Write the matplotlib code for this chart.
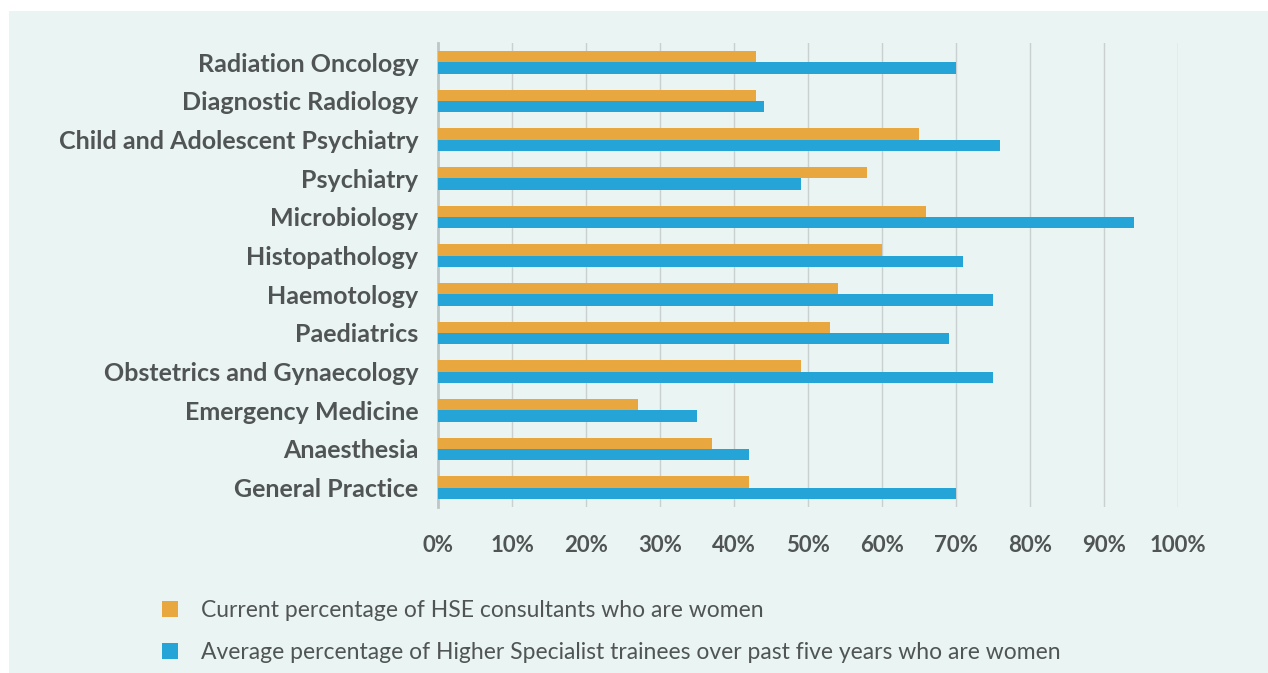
import matplotlib.pyplot as plt
import numpy as np
from matplotlib.patches import Patch

specialties = ["Radiation Oncology", "Diagnostic Radiology", "Child and Adolescent Psychiatry",
               "Psychiatry", "Microbiology", "Histopathology", "Haemotology", "Paediatrics",
               "Obstetrics and Gynaecology", "Emergency Medicine", "Anaesthesia", "General Practice"]
consultants = [43, 43, 65, 58, 66, 60, 54, 53, 49, 27, 37, 42]
trainees = [70, 44, 76, 49, 94, 71, 75, 69, 75, 35, 42, 70]
xticks = [0, 10, 20, 30, 40, 50, 60, 70, 80, 90, 100]

orange = "#E8A73F"
blue = "#25A5D7"
panel = "#EAF4F2"
grey = "#505454"

fig = plt.figure(figsize=(12.68, 6.73), dpi=100)
fig.patch.set_facecolor("white")

# light panel behind the chart
bg = fig.add_axes([9 / 1268, 0, 1 - 9 / 1268, 1 - 11 / 673], zorder=0)
bg.set_facecolor(panel)
bg.set_xticks([])
bg.set_yticks([])
for s in bg.spines.values():
    s.set_visible(False)

ax = fig.add_axes([438 / 1268, 1 - 507 / 673, 740 / 1268, 464 / 673], zorder=2)
ax.patch.set_alpha(0)

y = np.arange(len(specialties))
h = 0.29
ax.barh(y - h / 2, consultants, height=h, color=orange, zorder=3)
ax.barh(y + h / 2, trainees, height=h, color=blue, zorder=3)

ax.set_ylim(len(specialties) - 0.5, -0.5)
ax.set_xlim(0, 100)
ax.set_yticks(y)
ax.set_yticklabels(specialties, fontfamily="Lato", fontweight="bold", fontsize=18, color=grey)
ax.set_xticks(xticks)
ax.set_xticklabels([f"{t}%" for t in xticks], fontfamily="Lato", fontweight="bold",
                   fontsize=16, color=grey)
ax.tick_params(axis="both", length=0)
ax.tick_params(axis="x", pad=20)
ax.tick_params(axis="y", pad=14)
ax.grid(axis="x", color="#C9D0CF", linewidth=1, zorder=0)

for s in ["top", "right", "bottom"]:
    ax.spines[s].set_visible(False)
ax.spines["left"].set_color("#BFC7C6")
ax.spines["left"].set_linewidth(2)

handles = [Patch(facecolor=orange, label="Current percentage of HSE consultants who are women"),
           Patch(facecolor=blue, label="Average percentage of Higher Specialist trainees over past five years who are women")]
leg = fig.legend(handles=handles, loc="upper left", bbox_to_anchor=(141 / 1268, 1 - 579 / 673),
                 frameon=False, handlelength=0.7, handleheight=0.7, handletextpad=1.0,
                 labelspacing=0.95, prop={"family": "Lato", "size": 16.5})
leg.set_zorder(5)
for t in leg.get_texts():
    t.set_color(grey)

fig.savefig("out.png", dpi=100)
